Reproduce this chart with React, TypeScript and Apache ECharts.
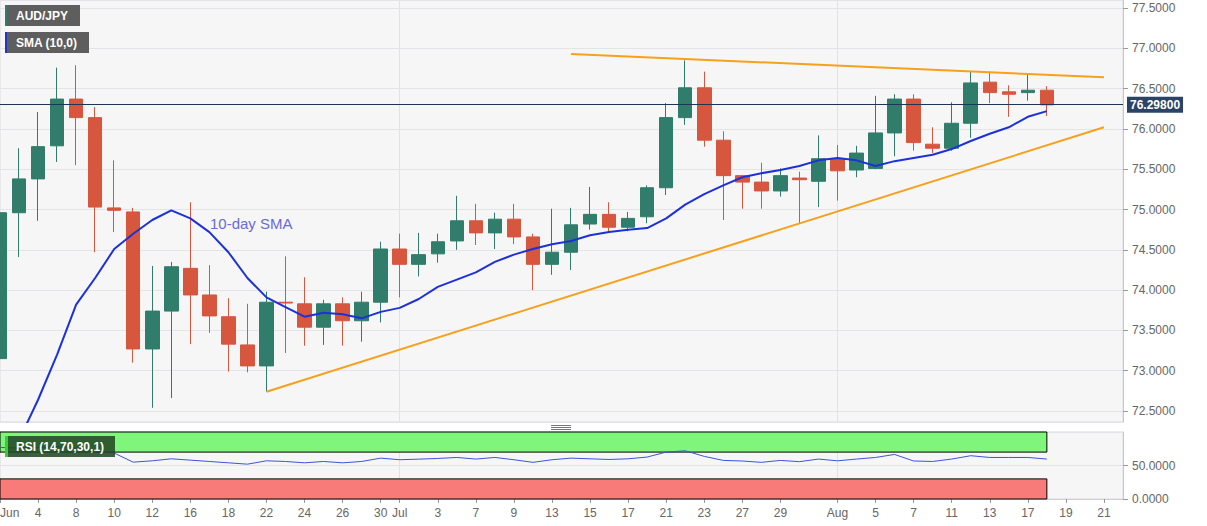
import React, { useEffect, useRef } from 'react';
import * as echarts from 'echarts';

const FONT = '"Liberation Sans", Arial, sans-serif';

const categories = [
  'Jun 2', 'Jun 3', 'Jun 4', 'Jun 5', 'Jun 8', 'Jun 9', 'Jun 10', 'Jun 11', 'Jun 12', 'Jun 15',
  'Jun 16', 'Jun 17', 'Jun 18', 'Jun 19', 'Jun 22', 'Jun 23', 'Jun 24', 'Jun 25', 'Jun 26', 'Jun 29',
  'Jun 30', 'Jul 1', 'Jul 2', 'Jul 3', 'Jul 6', 'Jul 7', 'Jul 8', 'Jul 9', 'Jul 10', 'Jul 13',
  'Jul 14', 'Jul 15', 'Jul 16', 'Jul 17', 'Jul 20', 'Jul 21', 'Jul 22', 'Jul 23', 'Jul 24', 'Jul 27',
  'Jul 28', 'Jul 29', 'Jul 30', 'Jul 31', 'Aug 3', 'Aug 4', 'Aug 5', 'Aug 6', 'Aug 7', 'Aug 10',
  'Aug 11', 'Aug 12', 'Aug 13', 'Aug 14', 'Aug 17', 'Aug 18', 'Aug 19', 'Aug 20', 'Aug 21', 'Aug 24',
];

const opens = [
  73.15, 74.96, 75.38, 75.79, 76.37, 76.14, 75.02, 74.97, 73.27, 73.74,
  74.27, 73.94, 73.67, 73.32, 73.06, 73.85, 73.83, 73.54, 73.83, 73.62,
  73.85, 74.51, 74.32, 74.45, 74.61, 74.86, 74.71, 74.88, 74.66, 74.32,
  74.47, 74.82, 74.94, 74.78, 74.91, 75.27, 76.14, 76.51, 75.86, 75.42,
  75.34, 75.23, 75.39, 75.35, 75.63, 75.49, 75.51, 75.95, 76.37, 75.81,
  75.76, 76.07, 76.58, 76.46, 76.45, 76.48,
];
const closes = [
  74.96, 75.38, 75.78, 76.37, 76.14, 75.03, 74.99, 73.27, 73.74, 74.29,
  73.94, 73.68, 73.33, 73.06, 73.85, 73.84, 73.54, 73.83, 73.62, 73.85,
  74.51, 74.32, 74.44, 74.60, 74.86, 74.71, 74.88, 74.66, 74.32, 74.47,
  74.81, 74.94, 74.78, 74.89, 75.27, 76.14, 76.51, 75.86, 75.42, 75.34,
  75.23, 75.42, 75.37, 75.63, 75.48, 75.70, 75.95, 76.37, 75.83, 75.76,
  76.07, 76.57, 76.45, 76.43, 76.48, 76.298,
];
const lows = [
  72.95, 74.41, 74.86, 75.59, 75.55, 74.47, 74.72, 73.10, 72.54, 72.66,
  73.33, 73.47, 72.99, 72.98, 72.74, 73.22, 73.31, 73.32, 73.31, 73.36,
  73.60, 73.91, 74.17, 74.34, 74.50, 74.56, 74.51, 74.57, 74.00, 74.19,
  74.25, 74.75, 74.71, 74.73, 74.83, 75.18, 76.05, 75.78, 74.87, 75.01,
  75.01, 75.16, 74.83, 75.03, 75.11, 75.40, 75.50, 75.66, 75.73, 75.70,
  75.73, 75.89, 76.32, 76.15, 76.35, 76.16,
];
const highs = [
  74.98, 75.76, 76.21, 76.76, 76.79, 76.27, 75.61, 75.02, 74.30, 74.35,
  75.09, 74.31, 73.90, 73.83, 73.98, 74.42, 74.16, 73.88, 73.91, 73.98,
  74.60, 74.70, 74.71, 74.70, 75.17, 75.07, 74.96, 75.07, 74.70, 75.01,
  75.02, 75.28, 75.09, 74.97, 75.30, 76.32, 76.85, 76.71, 75.97, 75.43,
  75.58, 75.51, 75.47, 75.92, 75.80, 75.79, 76.41, 76.43, 76.43, 76.02,
  76.33, 76.71, 76.71, 76.54, 76.68, 76.53,
];

const sma10 = [
  71.67, 72.14, 72.64, 73.20, 73.82, 74.15, 74.51, 74.70, 74.87, 74.99,
  74.89, 74.72, 74.47, 74.15, 73.91, 73.79, 73.67, 73.72, 73.70, 73.65,
  73.73, 73.78, 73.89, 74.04, 74.13, 74.22, 74.35, 74.44, 74.51, 74.57,
  74.61, 74.68, 74.72, 74.75, 74.77, 74.89, 75.06, 75.19, 75.30, 75.40,
  75.45, 75.49, 75.54, 75.61, 75.64, 75.61, 75.54, 75.60, 75.64, 75.68,
  75.75, 75.85, 75.94, 76.02, 76.15, 76.22,
];

const rsi14 = [
  77, 76, 77, 78, 76, 72, 68.5, 55, 57, 60,
  58, 56, 54, 52, 57, 56, 54, 56, 54, 56,
  61, 58.6, 59.5, 60.5, 62, 59.6, 62, 58.6, 54.7, 58.6,
  61, 60, 59, 60, 62.6, 70, 72, 63.6, 57.6, 56.7,
  54.7, 57.6, 55.7, 59.6, 57, 59.6, 62, 66.5, 56.7, 56,
  59.6, 64.6, 62, 62, 62, 59.6,
];

const upperTrend = [['Jul 14', 76.93], ['Aug 21', 76.64]];
const lowerTrend = [['Jun 22', 72.74], ['Aug 21', 76.02]];

const xLabelDates = [
  'Jun 2', 'Jun 4', 'Jun 8', 'Jun 10', 'Jun 12', 'Jun 16', 'Jun 18', 'Jun 22', 'Jun 24', 'Jun 26', 'Jun 30',
  'Jul 1', 'Jul 3', 'Jul 7', 'Jul 9', 'Jul 13', 'Jul 15', 'Jul 17', 'Jul 21', 'Jul 23', 'Jul 27', 'Jul 29',
  'Aug 3', 'Aug 5', 'Aug 7', 'Aug 11', 'Aug 13', 'Aug 17', 'Aug 19', 'Aug 21',
];
const monthStarts = ['Jun 2', 'Jul 1', 'Aug 3'];

const UP = '#2f7d6a';
const DOWN = '#d6563e';

export default function App() {
  const ref = useRef<HTMLDivElement>(null);

  useEffect(() => {
    if (!ref.current) return;
    const chart = echarts.init(ref.current, undefined, { renderer: 'svg' });
    const lastClose = closes[closes.length - 1];
    const lastDate = categories[closes.length - 1];
    const labelSet = new Set(xLabelDates);
    const labelFormatter = (value: string) => {
      if (value === 'Jun 2') return '';
      if (monthStarts.includes(value)) return value.split(' ')[0];
      return value.split(' ')[1];
    };
    const splitInterval = (_i: number, v: string) => monthStarts.includes(v) && v !== 'Jun 2';
    const labelInterval = (_i: number, v: string) => labelSet.has(v);

    const candleData = opens.map((o, i) => [o, closes[i], lows[i], highs[i]]);

    const option: any = {
      animation: false,
      backgroundColor: '#ffffff',
      textStyle: { fontFamily: FONT },
      grid: [
        { left: 0, top: 0, width: 1123, height: 422, show: true, backgroundColor: '#f6f6f7', borderColor: '#d9dadf', borderWidth: 1, outerBoundsMode: 'none', containLabel: false },
        { left: 0, top: 432, width: 1123, height: 67, show: true, backgroundColor: '#f6f6f7', borderColor: '#d9dadf', borderWidth: 1, outerBoundsMode: 'none', containLabel: false },
      ],
      xAxis: [
        {
          type: 'category', gridIndex: 0, data: categories, boundaryGap: false,
          axisLine: { show: false }, axisTick: { show: false }, axisLabel: { show: false },
          splitLine: { show: true, interval: splitInterval, lineStyle: { color: '#e1e1e6' } },
        },
        {
          type: 'category', gridIndex: 1, data: categories, boundaryGap: false,
          axisLine: { show: true, lineStyle: { color: '#cfd0d6' } },
          axisTick: { show: true, interval: labelInterval, length: 4, lineStyle: { color: '#999999' } },
          axisLabel: { show: true, interval: labelInterval, formatter: labelFormatter, color: '#666666', fontSize: 12, margin: 8, fontFamily: FONT, hideOverlap: false },
          splitLine: { show: true, interval: splitInterval, lineStyle: { color: '#e1e1e6' } },
        },
      ],
      yAxis: [
        {
          type: 'value', gridIndex: 0, position: 'right', min: 72.364, max: 77.599, scale: true,
          splitNumber: 10, minInterval: 0.5, maxInterval: 0.5,
          axisLine: { show: true, lineStyle: { color: '#c8c9cf' } },
          axisTick: { show: true, length: 5, lineStyle: { color: '#999999' } },
          axisLabel: { color: '#666666', fontSize: 12, margin: 9, showMinLabel: false, showMaxLabel: false, fontFamily: FONT, formatter: (v: number) => v.toFixed(4) },
          splitLine: { show: true, lineStyle: { color: '#e3e3e8' } },
        },
        {
          type: 'value', gridIndex: 1, position: 'right', min: 0, max: 100, interval: 50,
          axisLine: { show: true, lineStyle: { color: '#c8c9cf' } },
          axisTick: { show: true, length: 5, lineStyle: { color: '#999999' } },
          axisLabel: { color: '#666666', fontSize: 12, margin: 9, showMaxLabel: false, fontFamily: FONT, formatter: (v: number) => v.toFixed(4) },
          splitLine: { show: true, lineStyle: { color: '#e3e3e8' } },
        },
      ],
      series: [
        {
          type: 'candlestick', xAxisIndex: 0, yAxisIndex: 0, barWidth: 14, data: candleData,
          itemStyle: { color: UP, color0: DOWN, borderColor: UP, borderColor0: DOWN, borderWidth: 1 },
          emphasis: { disabled: true },
          markLine: {
            silent: true, symbol: 'none', animation: false,
            lineStyle: { color: '#1f3556', width: 1, type: 'solid' },
            label: {
              show: true, position: 'end', distance: 4, formatter: () => lastClose.toFixed(5),
              backgroundColor: '#2b4466', color: '#ffffff', fontWeight: 'bold', fontSize: 12,
              padding: [2, 3, 2, 3], fontFamily: FONT,
            },
            data: [{ yAxis: lastClose }],
          },
        },
        {
          type: 'line', xAxisIndex: 0, yAxisIndex: 0, data: sma10, showSymbol: false, symbol: 'none',
          lineStyle: { color: '#1c31d6', width: 2 }, z: 5, silent: true,
        },
        {
          type: 'line', xAxisIndex: 0, yAxisIndex: 0, data: upperTrend, showSymbol: false, symbol: 'none',
          lineStyle: { color: '#f5a11c', width: 2 }, z: 6, silent: true,
        },
        {
          type: 'line', xAxisIndex: 0, yAxisIndex: 0, data: lowerTrend, showSymbol: false, symbol: 'none',
          lineStyle: { color: '#f5a11c', width: 2 }, z: 6, silent: true,
        },
        {
          type: 'line', xAxisIndex: 1, yAxisIndex: 1, data: rsi14, showSymbol: false, symbol: 'none',
          lineStyle: { color: '#3a55d8', width: 1 }, silent: true,
          markArea: {
            silent: true,
            data: [
              [{ xAxis: categories[0], yAxis: 70, itemStyle: { color: '#80f57c', borderColor: '#000000', borderWidth: 1 } }, { xAxis: lastDate, yAxis: 100 }],
              [{ xAxis: categories[0], yAxis: 0, itemStyle: { color: '#f87b79', borderColor: '#000000', borderWidth: 1 } }, { xAxis: lastDate, yAxis: 30 }],
            ],
          },
        },
      ],
      graphic: [
        { type: 'rect', shape: { x: 5, y: 5, width: 75, height: 21 }, style: { fill: '#5e5e5e' }, z: 100 },
        { type: 'rect', shape: { x: 5, y: 5, width: 2, height: 21 }, style: { fill: UP }, z: 101 },
        { type: 'text', x: 16, y: 15.5, z: 102, style: { text: 'AUD/JPY', fill: '#ffffff', fontSize: 12, fontWeight: 'bold', fontFamily: FONT, verticalAlign: 'middle' } },
        { type: 'rect', shape: { x: 5, y: 32, width: 84, height: 21 }, style: { fill: '#5e5e5e' }, z: 100 },
        { type: 'rect', shape: { x: 5, y: 32, width: 2, height: 21 }, style: { fill: '#1f36c7' }, z: 101 },
        { type: 'text', x: 16, y: 42.5, z: 102, style: { text: 'SMA (10,0)', fill: '#ffffff', fontSize: 12, fontWeight: 'bold', fontFamily: FONT, verticalAlign: 'middle' } },
        { type: 'rect', shape: { x: 5, y: 436, width: 110, height: 21 }, style: { fill: 'rgba(34,72,38,0.88)' }, z: 100 },
        { type: 'rect', shape: { x: 5, y: 436, width: 3, height: 21 }, style: { fill: '#38cc38' }, z: 101 },
        { type: 'text', x: 16, y: 446.5, z: 102, style: { text: 'RSI (14,70,30,1)', fill: '#ffffff', fontSize: 12, fontWeight: 'bold', fontFamily: FONT, verticalAlign: 'middle' } },
        { type: 'text', x: 210, y: 223, z: 50, style: { text: '10-day SMA', fill: '#6a6ad8', fontSize: 15, fontFamily: FONT, verticalAlign: 'middle' } },
        { type: 'text', x: 0, y: 513, z: 50, style: { text: 'Jun', fill: '#666666', fontSize: 12, fontFamily: FONT, verticalAlign: 'middle' } },
        { type: 'line', shape: { x1: 551, y1: 425.5, x2: 571, y2: 425.5 }, style: { stroke: '#777777', lineWidth: 1 }, z: 50 },
        { type: 'line', shape: { x1: 551, y1: 427.5, x2: 571, y2: 427.5 }, style: { stroke: '#777777', lineWidth: 1 }, z: 50 },
        { type: 'line', shape: { x1: 551, y1: 429.5, x2: 571, y2: 429.5 }, style: { stroke: '#777777', lineWidth: 1 }, z: 50 },
      ],
    };
    chart.setOption(option);
    return () => chart.dispose();
  }, []);

  return (
    <div
      ref={ref}
      style={{ position: 'fixed', left: 0, top: 0, width: 1207, height: 526, background: '#ffffff' }}
    />
  );
}
